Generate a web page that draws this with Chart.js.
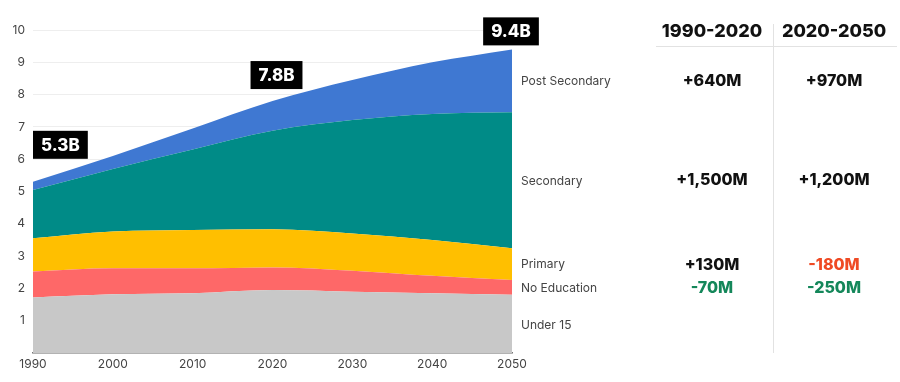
<!DOCTYPE html>
<html><head><meta charset="utf-8">
<script src="https://cdn.jsdelivr.net/npm/chart.js@4/dist/chart.umd.min.js"></script>
<style>
html,body{margin:0;padding:0;background:#fff;}
#wrap{position:relative;width:900px;height:382px;overflow:hidden;font-family:Inter, "Open Sans", sans-serif;}
#c{position:absolute;left:0;top:0;}
.lbl{position:absolute;left:521px;white-space:nowrap;transform:translateY(-50%);font-size:12px;color:#444;}
.t{position:absolute;white-space:nowrap;transform:translate(-50%,-50%);font-weight:800;color:#111;}
.hd{font-size:18px;}
.v{font-size:16px;}
.red{color:#ef4a24;}
.green{color:#14875a;}
#hline{position:absolute;left:656px;top:46px;width:241px;height:1px;background:#e2e2e2;}
#vline{position:absolute;left:773px;top:24px;width:1px;height:329px;background:#e2e2e2;}
</style></head>
<body>
<div id="wrap">
<canvas id="c" width="900" height="382"></canvas>
<div id="hline"></div><div id="vline"></div>
</div>
<script>
// ---- data ----
const years = ['1990','2000','2010','2020','2030','2040','2050'];
const under15       = [1.72, 1.82, 1.85, 1.95, 1.90, 1.85, 1.80];
const noEducation   = [0.80, 0.80, 0.77, 0.70, 0.65, 0.54, 0.46];
const primary       = [1.03, 1.14, 1.19, 1.18, 1.15, 1.11, 0.98];
const secondary     = [1.50, 1.94, 2.49, 3.05, 3.51, 3.90, 4.21];
const postSecondary = [0.25, 0.40, 0.65, 0.92, 1.24, 1.60, 1.95];
const seriesNames = ['Under 15','No Education','Primary','Secondary','Post Secondary'];
const totalLabels = ['5.3B','7.8B','9.4B'];
const totalLabelIdx = [0, 3, 6];
const periods = ['1990-2020','2020-2050'];
const changePostSecondary = ['+640M','+970M'];
const changeSecondary     = ['+1,500M','+1,200M'];
const changePrimary       = ['+130M','-180M'];
const changeNoEducation   = ['-70M','-250M'];
const yTicks = [1,2,3,4,5,6,7,8,9,10];

// ---- styles ----
const colors = ['#c8c8c8','#fe6868','#ffbf00','#008b87','#3f78d2'];
const seriesData = [under15, noEducation, primary, secondary, postSecondary];
const FONT = 'Inter, "Open Sans", sans-serif';

const boxPlugin = {
  id: 'boxes',
  afterDatasetsDraw(chart, args, opts) {
    const ctx = chart.ctx, xs = chart.scales.x, ys = chart.scales.y;
    ctx.save();
    ctx.font = '800 17px ' + FONT;
    totalLabelIdx.forEach((idx, i) => {
      let total = 0;
      chart.data.datasets.forEach(d => total += d.data[idx]);
      const x = xs.getPixelForValue(idx);
      const y = ys.getPixelForValue(total) + opts.dy[i];
      const w = ctx.measureText(totalLabels[i]).width + 2 * opts.padX;
      const h = 28;
      const left = opts.align[i] === 'left' ? x : x - w / 2 + opts.dx[i];
      ctx.fillStyle = '#000';
      ctx.fillRect(left, y - h / 2, w, h);
      ctx.fillStyle = '#fff';
      ctx.textAlign = 'center';
      ctx.textBaseline = 'middle';
      ctx.fillText(totalLabels[i], left + w / 2, y + 1);
    });
    ctx.restore();
  }
};

new Chart(document.getElementById('c'), {
  type: 'line',
  data: {
    labels: years,
    datasets: seriesData.map((d, i) => ({
      label: seriesNames[i],
      data: d,
      backgroundColor: colors[i],
      borderColor: colors[i],
      borderWidth: 0,
      pointRadius: 0,
      fill: i === 0 ? 'origin' : '-1',
      cubicInterpolationMode: 'monotone'
    }))
  },
  options: {
    responsive: false,
    animation: false,
    layout: { padding: { top: 30, right: 388, left: 0, bottom: 0 } },
    plugins: {
      legend: { display: false },
      tooltip: { enabled: false },
      boxes: { dy: [-37, -26, -18], dx: [0, 4, -1], align: ['left', 'center', 'center'], padX: 8 }
    },
    scales: {
      x: {
        stacked: true,
        offset: false,
        grid: { display: false, drawTicks: false },
        border: { display: true, color: '#777', width: 1.5 },
        ticks: { color: '#444', font: { size: 12, family: FONT }, padding: 4, maxRotation: 0, autoSkip: false },
        afterFit(s) { s.height = 29; }
      },
      y: {
        stacked: true,
        min: 0, max: 10,
        afterBuildTicks(s) { s.ticks = [0].concat(yTicks).map(v => ({ value: v })); },
        grid: { color: '#eeeeee', drawTicks: false, lineWidth: 1 },
        border: { display: false },
        ticks: { color: '#444', font: { size: 12, family: FONT }, padding: 8, callback: v => v === 0 ? '' : v },
        afterFit(s) { s.width = 33; }
      }
    }
  },
  plugins: [boxPlugin]
});

// ---- right-side labels and table ----
const wrap = document.getElementById('wrap');
function add(cls, text, x, y, extra) {
  const d = document.createElement('div');
  d.className = cls + (extra ? ' ' + extra : '');
  d.textContent = text;
  if (x !== null) d.style.left = x + 'px';
  d.style.top = y + 'px';
  wrap.appendChild(d);
}
const labelY = [324, 287, 263, 180, 80];
seriesNames.forEach((n, i) => add('lbl', n, null, labelY[i]));
const colX = [712, 834];
periods.forEach((p, i) => add('t hd', p, colX[i], 30));
const cls = s => s.startsWith('-') ? 'red' : '';
changePostSecondary.forEach((v, i) => add('t v', v, colX[i], 80));
changeSecondary.forEach((v, i) => add('t v', v, colX[i], 179));
changePrimary.forEach((v, i) => add('t v', v, colX[i], 264, cls(v)));
changeNoEducation.forEach((v, i) => add('t v', v, colX[i], 287, 'green'));
</script>
</body></html>
